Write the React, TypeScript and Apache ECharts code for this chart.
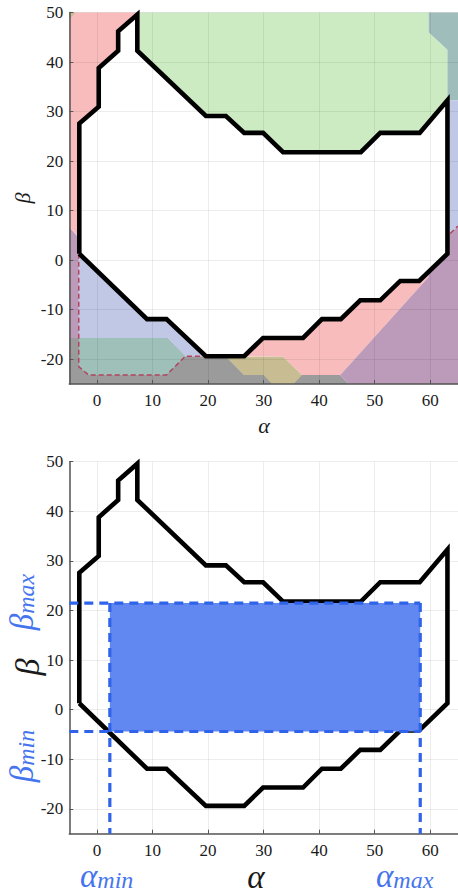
import React, { useEffect, useRef } from "react";
import * as echarts from "echarts";

// ---------- axis ranges ----------
const ALPHA_RANGE = [-5, 65];
const BETA_RANGE = [-25, 50];

// ---------- feasible-region outline (closed) ----------
const outlineAlpha = [-3.2, -3.2, 0.3, 0.3, 3.8, 3.8, 7.25, 7.25, 19.6, 23.2, 26.5, 29.9, 33.5, 47.5, 51.0, 58.1, 63.1, 63.1, 58.0, 54.6, 51.0, 47.4, 43.9, 40.5, 37.1, 29.9, 26.5, 19.6, 12.5, 9.0, -3.2];
const outlineBeta = [1.3, 27.6, 31.0, 38.8, 42.3, 46.2, 49.6, 42.3, 29.1, 29.1, 25.7, 25.7, 21.8, 21.8, 25.7, 25.7, 32.3, 1.3, -4.2, -4.2, -8.1, -8.1, -11.9, -11.9, -15.7, -15.7, -19.4, -19.4, -11.9, -11.9, 1.3];

// ---------- coloured regions of the top panel ([alpha, beta] vertices) ----------
const regionGray = [[-5, -25], [45.3, -25], [43.8, -23.2], [26.5, -23.2], [23.2, -19.4], [15.9, -19.4], [12.7, -15.7], [-5, -15.7]];
const regionTeal = [[-3.3, -15.7], [12.7, -15.7], [15.9, -19.4], [12.5, -23.2], [-1.5, -23.2], [-3.3, -21.5]];
const regionLavenderLeft = [[-3.2, 1.3], [9.0, -11.9], [12.5, -11.9], [19.6, -19.4], [15.9, -19.4], [12.7, -15.7], [-3.3, -15.7]];
const regionPurpleLeft = [[-5, -15.7], [-3.3, -15.7], [-3.3, 4.5], [-5, 6.7]];
const regionPinkLeft = [[-5, 6.7], [-3.2, 4.5], [-3.2, 27.6], [0.3, 31.0], [0.3, 38.8], [3.8, 42.3], [3.8, 46.2], [7.25, 49.6], [7.25, 50], [-5, 50]];
const regionKhakiCorner = [[-5, 50], [-3.9, 50], [-5, 48.6]];
const regionGreen = [[7.25, 50], [7.25, 42.3], [19.6, 29.1], [23.2, 29.1], [26.5, 25.7], [29.9, 25.7], [33.5, 21.8], [47.5, 21.8], [51.0, 25.7], [58.1, 25.7], [63.1, 32.3], [63.1, 42.5], [59.7, 46.0], [59.7, 50]];
const regionSlate = [[59.7, 50], [65, 50], [65, 32.3], [63.1, 32.3], [63.1, 42.5], [59.7, 46.0]];
const regionLavenderRight = [[63.1, 32.3], [65, 32.3], [65, 6.7], [63.1, 5.2]];
const regionPinkRight = [[26.5, -19.4], [29.9, -15.7], [37.1, -15.7], [40.5, -11.9], [43.9, -11.9], [47.4, -8.1], [51.0, -8.1], [54.6, -4.2], [58.0, -4.2], [59.7, -2.4], [59.7, -3.4], [43.8, -23.2], [36.9, -23.2], [33.5, -19.5]];
const regionKhakiBottom = [[23.2, -19.5], [33.5, -19.5], [36.9, -23.2], [35.4, -25], [31.5, -25], [30.0, -23.2], [26.5, -23.2]];
const regionPurpleRight = [[43.8, -23.2], [45.3, -25], [65, -25], [65, 6.7], [63.1, 5.2], [63.1, 1.3], [59.7, -2.4], [59.7, -3.4]];

const dashedOutlineA = [[-3.3, 1.3], [-3.3, -21.5], [-1.5, -23.2], [12.5, -23.2], [15.9, -19.4], [19.6, -19.4]];
const dashedOutlineB = [[63.6, 5.4], [65, 6.9]];

// ---------- inner box of the bottom panel ----------
const boxAlpha = [2.3, 58.2]; // alpha_min, alpha_max
const boxBeta = [-4.4, 21.5]; // beta_min, beta_max

const FONT = "Liberation Serif";
const BLUE_TEXT = "#4575ee";
const BLUE_LINE = "#2f63ea";
const BLUE_FILL = "#6188f0";

const TOP_REGIONS = [
  { pts: regionGray, color: "#9a9b9a" },
  { pts: regionTeal, color: "#9fc0b8" },
  { pts: regionLavenderLeft, color: "#c0c8e6" },
  { pts: regionPurpleLeft, color: "#bc9ab9" },
  { pts: regionPinkLeft, color: "#f8bcbd" },
  { pts: regionKhakiCorner, color: "#c8bd92" },
  { pts: regionGreen, color: "#cdebc3" },
  { pts: regionSlate, color: "#9fbdbb" },
  { pts: regionLavenderRight, color: "#c0c8e6" },
  { pts: regionPinkRight, color: "#f8bcbd" },
  { pts: regionKhakiBottom, color: "#c8bd92" },
  { pts: regionPurpleRight, color: "#bc9ab9" },
];

const outlineData = outlineAlpha.map((a, i) => [a, outlineBeta[i]]);

function xAxis(gridIndex: number) {
  return {
    type: "value",
    gridIndex,
    min: ALPHA_RANGE[0],
    max: ALPHA_RANGE[1],
    splitNumber: 7,
    minInterval: 10,
    maxInterval: 10,
    z: 4,
    axisLine: { show: true, onZero: false, lineStyle: { color: "#555", width: 1.5 } },
    axisTick: { show: true, inside: true, length: 4, lineStyle: { color: "#555", width: 1 } },
    axisLabel: {
      fontFamily: FONT,
      fontSize: 17,
      color: "#1a1a1a",
      margin: 8,
      showMinLabel: false,
      showMaxLabel: false,
      formatter: (v: number) => (v % 10 === 0 ? String(v) : ""),
    },
    splitLine: { show: true, lineStyle: { color: "rgba(0,0,0,0.07)", width: 1 } },
  };
}

function yAxis(gridIndex: number) {
  return {
    type: "value",
    gridIndex,
    min: BETA_RANGE[0],
    max: BETA_RANGE[1],
    splitNumber: 8,
    minInterval: 10,
    maxInterval: 10,
    z: 4,
    axisLine: { show: true, onZero: false, lineStyle: { color: "#555", width: 1.5 } },
    axisTick: { show: true, inside: true, length: 4, lineStyle: { color: "#555", width: 1 } },
    axisLabel: {
      fontFamily: FONT,
      fontSize: 17,
      color: "#1a1a1a",
      margin: 6,
      showMinLabel: false,
      formatter: (v: number) => (v % 10 === 0 ? String(v) : ""),
    },
    splitLine: { show: true, lineStyle: { color: "rgba(0,0,0,0.07)", width: 1 } },
  };
}

function dashedLine(data: number[][], idx: number, color: string, width: number, dash: number[]) {
  return {
    type: "line",
    xAxisIndex: idx,
    yAxisIndex: idx,
    data,
    symbol: "none",
    showSymbol: false,
    silent: true,
    clip: false,
    z: 6,
    lineStyle: { color, width, type: dash, cap: "butt" },
  };
}

function subLabel(main: string, sub: string, x: number, y: number, rotated: boolean, align: string) {
  return {
    type: "text",
    x,
    y,
    rotation: rotated ? Math.PI / 2 : 0,
    silent: true,
    style: {
      text: `{a|${main}}{s|${sub}}`,
      align,
      textAlign: align,
      verticalAlign: "middle",
      textVerticalAlign: "middle",
      rich: {
        a: { fontFamily: FONT, fontStyle: "italic", fontSize: 33, lineHeight: 24, verticalAlign: "bottom", fill: BLUE_TEXT, color: BLUE_TEXT },
        s: { fontFamily: FONT, fontStyle: "italic", fontSize: 24, lineHeight: 13, verticalAlign: "bottom", fill: BLUE_TEXT, color: BLUE_TEXT },
      },
    },
  };
}

function plainLabel(text: string, x: number, y: number, size: number, rotated: boolean) {
  return {
    type: "text",
    x,
    y,
    rotation: rotated ? Math.PI / 2 : 0,
    silent: true,
    style: {
      text,
      fontFamily: FONT,
      fontStyle: "italic",
      fontSize: size,
      lineHeight: Math.round(size * 0.75),
      fill: "#1a1a1a",
      align: "center",
      textAlign: "center",
      verticalAlign: "middle",
      textVerticalAlign: "middle",
    },
  };
}

export default function App() {
  const ref = useRef<HTMLDivElement>(null);

  useEffect(() => {
    if (!ref.current) return;
    const chart = echarts.init(ref.current, undefined, { renderer: "svg" });

    const option: any = {
      animation: false,
      backgroundColor: "#ffffff",
      textStyle: { fontFamily: FONT },
      grid: [
        { left: 69.3, top: 12.5, width: 390, height: 371.5 },
        { left: 69.3, top: 461.7, width: 390, height: 372 },
      ],
      xAxis: [xAxis(0), xAxis(1)],
      yAxis: [yAxis(0), yAxis(1)],
      series: [
        {
          type: "custom",
          xAxisIndex: 0,
          yAxisIndex: 0,
          silent: true,
          clip: false,
          z: 1,
          data: TOP_REGIONS.map((r) => r.pts[0]),
          renderItem: (params: any, api: any) => {
            const reg = TOP_REGIONS[params.dataIndex];
            return {
              type: "polygon",
              shape: { points: reg.pts.map((p) => api.coord(p)) },
              style: { fill: reg.color },
            };
          },
        },
        dashedLine(dashedOutlineA, 0, "#b4445f", 1.5, [5, 3]),
        dashedLine(dashedOutlineB, 0, "#b4445f", 1.5, [5, 3]),
        {
          type: "line",
          xAxisIndex: 0,
          yAxisIndex: 0,
          data: outlineData,
          symbol: "none",
          showSymbol: false,
          silent: true,
          clip: false,
          z: 7,
          lineStyle: { color: "#000", width: 4.6, join: "miter", cap: "butt" },
        },
        {
          type: "line",
          xAxisIndex: 1,
          yAxisIndex: 1,
          data: outlineData,
          symbol: "none",
          showSymbol: false,
          silent: true,
          clip: false,
          z: 3,
          lineStyle: { color: "#000", width: 4.6, join: "miter", cap: "butt" },
        },
        {
          type: "custom",
          xAxisIndex: 1,
          yAxisIndex: 1,
          silent: true,
          clip: false,
          z: 4,
          data: [[boxAlpha[0], boxBeta[0]]],
          renderItem: (params: any, api: any) => ({
            type: "polygon",
            shape: {
              points: [
                api.coord([boxAlpha[0], boxBeta[0]]),
                api.coord([boxAlpha[1], boxBeta[0]]),
                api.coord([boxAlpha[1], boxBeta[1]]),
                api.coord([boxAlpha[0], boxBeta[1]]),
              ],
            },
            style: { fill: BLUE_FILL },
          }),
        },
        dashedLine([[ALPHA_RANGE[0], boxBeta[1]], [boxAlpha[1], boxBeta[1]]], 1, BLUE_LINE, 3.2, [9, 6]),
        dashedLine([[ALPHA_RANGE[0], boxBeta[0]], [boxAlpha[1], boxBeta[0]]], 1, BLUE_LINE, 3.2, [9, 6]),
        dashedLine([[boxAlpha[0], boxBeta[1]], [boxAlpha[0], BETA_RANGE[0]]], 1, BLUE_LINE, 3.2, [9, 6]),
        dashedLine([[boxAlpha[1], boxBeta[1]], [boxAlpha[1], BETA_RANGE[0]]], 1, BLUE_LINE, 3.2, [9, 6]),
      ],
      graphic: [
        plainLabel("α", 264, 425, 22, false),
        plainLabel("β", 22, 198, 22, true),
        plainLabel("α", 256, 877, 33, false),
        plainLabel("β", 27, 667, 34, true),
        subLabel("α", "min", 80, 880, false, "left"),
        subLabel("α", "max", 376, 880, false, "left"),
        subLabel("β", "max", 26, 602, true, "center"),
        subLabel("β", "min", 26, 756, true, "center"),
      ],
    };

    chart.setOption(option);
    return () => chart.dispose();
  }, []);

  return (
    <div
      ref={ref}
      style={{ position: "fixed", left: 0, top: 0, width: 458, height: 894, background: "#fff" }}
    />
  );
}
